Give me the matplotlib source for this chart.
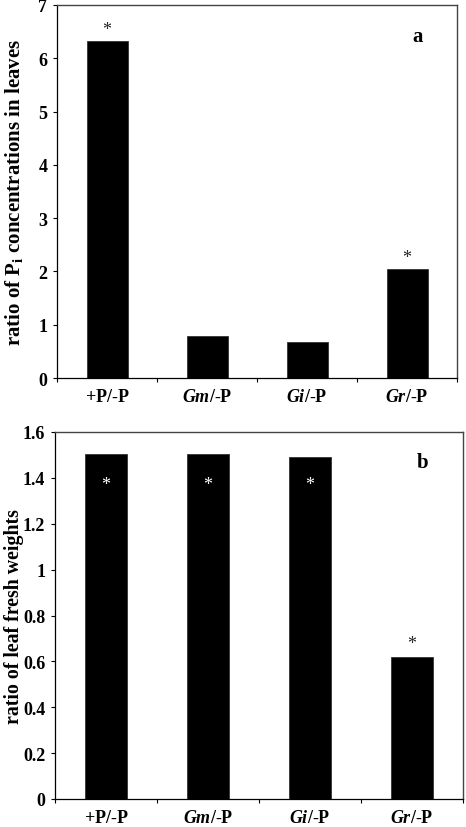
import matplotlib
matplotlib.use("Agg")
import matplotlib.pyplot as plt
import numpy as np

categories = ["+P/-P", "Gm/-P", "Gi/-P", "Gr/-P"]
tick_labels = [r"$\mathbf{+P/\text{-}P}$", r"$\boldsymbol{Gm}\mathbf{/\text{-}P}$",
               r"$\boldsymbol{Gi}\mathbf{/\text{-}P}$", r"$\boldsymbol{Gr}\mathbf{/\text{-}P}$"]
pi_ratio = [6.32, 0.78, 0.68, 2.04]
pi_sig = [True, False, False, True]
fw_ratio = [1.505, 1.505, 1.49, 0.62]
fw_sig = [True, True, True, True]

plt.rcParams['font.family'] = ['Liberation Serif', 'DejaVu Serif']
plt.rcParams['mathtext.fontset'] = 'custom'
plt.rcParams['mathtext.rm'] = 'Liberation Serif'
plt.rcParams['mathtext.it'] = 'Liberation Serif:italic:bold'
plt.rcParams['mathtext.bf'] = 'Liberation Serif:bold'
plt.rcParams['mathtext.bfit'] = 'Liberation Serif:italic:bold'

W, H = 466, 828
fig = plt.figure(figsize=(W/100, H/100), dpi=100)

def make_ax(left, right, top, bottom):
    return fig.add_axes([left/W, 1-bottom/H, (right-left)/W, (bottom-top)/H])

ax1 = make_ax(57, 457, 6, 379)
ax2 = make_ax(55, 463, 433, 800)

def style(ax, ylim, yticks, yticklabels):
    x = np.arange(len(categories))
    ax.set_xlim(-0.5, len(categories)-0.5)
    ax.set_ylim(*ylim)
    ax.set_yticks(yticks)
    ax.set_yticklabels(yticklabels, fontsize=13, fontweight='bold')
    ax.set_xticks(x)
    ax.set_xticklabels([])
    ax.tick_params(axis='x', which='major', length=0)
    ax.set_xticks(np.arange(-0.5, len(categories)), minor=True)
    ax.tick_params(axis='x', which='minor', length=3, width=0.8, direction='out')
    ax.tick_params(axis='y', length=3, width=0.8, direction='out', pad=4)
    for s in ['left', 'bottom']:
        ax.spines[s].set_color('black')
        ax.spines[s].set_linewidth(0.9)
    for s in ['top', 'right']:
        ax.spines[s].set_color('#444444')
        ax.spines[s].set_linewidth(1.0)
    for i, lab in enumerate(tick_labels):
        ax.annotate(lab, xy=(i, 0), xycoords=('data', 'axes fraction'),
                    xytext=(0, -7), textcoords='offset points',
                    ha='center', va='top', fontsize=13)

x = np.arange(len(categories))
ax1.bar(x, pi_ratio, width=0.41, color='black', edgecolor='#333333', linewidth=0.6)
style(ax1, (0, 7), range(0, 8), [str(v) for v in range(0, 8)])
for i, (v, s) in enumerate(zip(pi_ratio, pi_sig)):
    if s:
        ax1.text(i, v + 0.07, "*", ha='center', va='bottom', fontsize=13, color='#222222')
ax1.text(3.05, 6.42, "a", fontsize=15, fontweight='bold', ha='left', va='center')
ax1.set_ylabel(r"ratio of P$_\mathbf{i}$ concentrations in leaves", fontsize=15,
               fontweight='bold', va='center')
ax1.yaxis.set_label_coords((14 - 57) / 400, 0.5)

ax2.bar(x, fw_ratio, width=0.41, color='black', edgecolor='#333333', linewidth=0.6)
yt = [0, 0.2, 0.4, 0.6, 0.8, 1.0, 1.2, 1.4, 1.6]
style(ax2, (0, 1.6), yt, ["0", "0.2", "0.4", "0.6", "0.8", "1", "1.2", "1.4", "1.6"])
for i, (v, s) in enumerate(zip(fw_ratio, fw_sig)):
    if s:
        if v > 1.0:
            ax2.text(i, 1.37, "*", ha='center', va='center', fontsize=13, color='white')
        else:
            ax2.text(i, v + 0.02, "*", ha='center', va='bottom', fontsize=13, color='#222222')
ax2.text(3.05, 1.47, "b", fontsize=15, fontweight='bold', ha='left', va='center')
ax2.set_ylabel("ratio of leaf fresh weights", fontsize=14.3, fontweight='bold', va='center')
ax2.yaxis.set_label_coords((14 - 55) / 408, 0.5)

fig.savefig("out.png", dpi=100)
